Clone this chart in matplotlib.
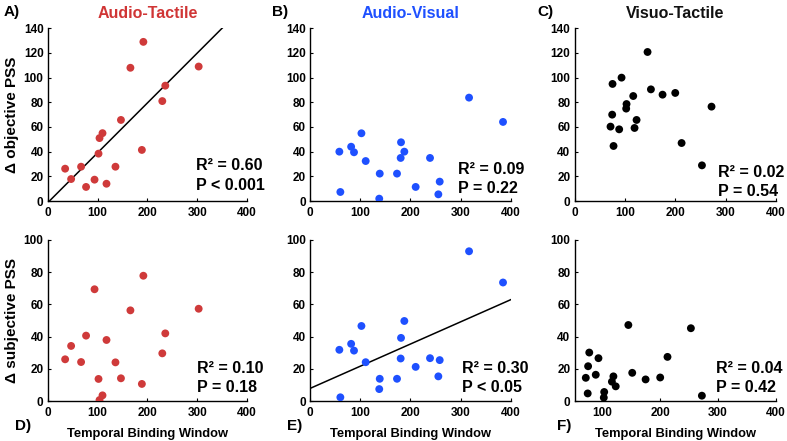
import numpy as np
import matplotlib
matplotlib.use("Agg")
import matplotlib.pyplot as plt

plt.rcParams['font.family'] = ['Liberation Sans', 'DejaVu Sans']
plt.rcParams['font.weight'] = 'bold'

# ---------------- data ----------------
# Audio-Tactile
at_tbw = [35, 47, 67, 77, 94, 102, 104, 110, 118, 136, 147, 166, 189, 192, 230, 236, 303]
at_obj = [26.2, 17.8, 27.8, 11.4, 17.3, 38.4, 51, 55, 14, 27.8, 65.7, 108, 41.4, 129, 81, 93.5, 109]
at_subj = [25.9, 34.2, 24.2, 40.6, 69.4, 13.7, 0.6, 3.5, 37.9, 24, 14.1, 56.3, 10.6, 77.8, 29.6, 42, 57.3]

# Audio-Visual
av_tbw = [58.5, 60.5, 82, 87.7, 102.5, 111, 138, 139, 173.4, 180.7, 181.4, 188, 210.6, 239.2, 255.8, 258.5, 317, 384.7]
av_obj = [40, 7.3, 44, 39.5, 54.9, 32.4, 1.9, 22.2, 22.2, 34.9, 47.6, 40, 11.4, 34.9, 5.4, 15.7, 83.8, 64.1]
av_subj = [31.8, 2.3, 35.5, 31.3, 46.6, 24.1, 7.4, 13.8, 13.8, 26.4, 39.2, 49.7, 21.2, 26.6, 15.3, 25.4, 93, 73.6]

# Visuo-Tactile
vt_tbw = [71.5, 74.8, 75.5, 77.5, 88.7, 93.4, 102.6, 103.3, 116.6, 119.2, 123.2, 145, 151.7, 174.8, 200, 212.6, 253, 272]
vt_obj = [60.3, 70, 94.9, 44.6, 58.1, 100, 74.9, 78.6, 85.1, 59.2, 65.7, 120.8, 90.5, 86.2, 87.6, 47, 28.9, 76.5]
vt_subj = [14.4, 4.7, 21.6, 30.1, 16.3, 26.6, 2.1, 5.6, 12, 15.3, 9.1, 47.2, 17.5, 13.4, 14.6, 27.4, 45.2, 3.3]

# regression lines (slope, intercept)
at_obj_fit = (0.4042, -1.4)
av_subj_fit = (0.1378, 7.8)

titles = ['Audio-Tactile', 'Audio-Visual', 'Visuo-Tactile']
title_colors = ['#D03535', '#1E50FF', '#111111']
stats = [['R\u00b2 = 0.60', 'P < 0.001'], ['R\u00b2 = 0.09', 'P = 0.22'], ['R\u00b2 = 0.02', 'P = 0.54'],
         ['R\u00b2 = 0.10', 'P = 0.18'], ['R\u00b2 = 0.30', 'P < 0.05'], ['R\u00b2 = 0.04', 'P = 0.42']]
letters = ['A)', 'B)', 'C)', 'D)', 'E)', 'F)']
xlabel = 'Temporal Binding Window'
ylabels = ['\u0394 objective PSS', '\u0394 subjective PSS']
top_yticks = [0, 20, 40, 60, 80, 100, 120, 140]
bot_yticks = [0, 20, 40, 60, 80, 100]
xticks = [0, 100, 200, 300, 400]
f_xticks = [100, 200, 300, 400]

# ---------------- figure ----------------
W, H = 787, 441
fig = plt.figure(figsize=(W / 100, H / 100), dpi=100)

def px(x0, y0, x1, y1):
    return [x0 / W, 1 - y1 / H, (x1 - x0) / W, (y1 - y0) / H]

col_px = [(47.7, 247.0), (310.0, 510.7), (574.5, 776.0)]
row_px = [(28.3, 201.0), (240.0, 401.0)]

panels = [
    (at_tbw, at_obj, '#CF3A3A', at_obj_fit),
    (av_tbw, av_obj, '#1E50FF', None),
    (vt_tbw, vt_obj, '#000000', None),
    (at_tbw, at_subj, '#CF3A3A', None),
    (av_tbw, av_subj, '#1E50FF', av_subj_fit),
    (vt_tbw, vt_subj, '#000000', None),
]
stat_pos = [(0.745, 0.204, 0.092), (0.737, 0.181, 0.075), (0.71, 0.163, 0.056),
            (0.75, 0.201, 0.086), (0.755, 0.201, 0.086), (0.704, 0.201, 0.086)]

axes = []
for i, (xd, yd, col, fit) in enumerate(panels):
    r, c = divmod(i, 3)
    x0, x1 = col_px[c]
    y0, y1 = row_px[r]
    ax = fig.add_axes(px(x0, y0, x1, y1))
    axes.append(ax)
    ax.scatter(xd, yd, s=32, color=col, edgecolors='none', zorder=3)
    if i == 5:
        ax.set_xlim(52, 400)
        ax.set_xticks(f_xticks)
    else:
        ax.set_xlim(0, 400)
        ax.set_xticks(xticks)
    if r == 0:
        ax.set_ylim(0, 140)
        ax.set_yticks(top_yticks)
    else:
        ax.set_ylim(0, 100)
        ax.set_yticks(bot_yticks)
    if fit is not None:
        xs = np.array([0, 400])
        ax.plot(xs, fit[0] * xs + fit[1], color='black', lw=1.1, zorder=2)
    for s in ['top', 'right']:
        ax.spines[s].set_visible(False)
    for s in ['left', 'bottom']:
        ax.spines[s].set_linewidth(1.0)
    ax.tick_params(direction='in', length=2.5, width=0.8, labelsize=8.5)
    ax.tick_params(axis='x', pad=4)
    ax.tick_params(axis='y', pad=3)
    for lab in ax.get_xticklabels() + ax.get_yticklabels():
        lab.set_fontweight('bold')
    sx, sy1, sy2 = stat_pos[i]
    ax.text(sx, sy1, stats[i][0], transform=ax.transAxes, fontsize=11.5, fontweight='bold',
            ha='left', va='center', clip_on=False)
    ax.text(sx, sy2, stats[i][1], transform=ax.transAxes, fontsize=11.5, fontweight='bold',
            ha='left', va='center', clip_on=False)

# titles
for c in range(3):
    x0, x1 = col_px[c]
    fig.text((x0 + x1) / 2 / W, 1 - 13.5 / H, titles[c], color=title_colors[c],
             fontsize=11.5, fontweight='bold', ha='center', va='center')

# panel letters
letter_px = [(3.4, 11.8), (271.8, 11.8), (537.6, 11.8), (15.2, 426), (287, 426), (557, 426)]
for L, (lx, ly) in zip(letters, letter_px):
    fig.text(lx / W, 1 - ly / H, L, fontsize=11, fontweight='bold', ha='left', va='center')

# x labels
for c in range(3):
    x0, x1 = col_px[c]
    fig.text((x0 + x1) / 2 / W, 1 - 434.5 / H, xlabel, fontsize=9.3, fontweight='bold',
             ha='center', va='center')

# y labels
for r in range(2):
    y0, y1 = row_px[r]
    fig.text(12.5 / W, 1 - (y0 + y1) / 2 / H, ylabels[r], fontsize=11, fontweight='bold',
             rotation=90, ha='center', va='center')

fig.savefig('out.png', dpi=100)
